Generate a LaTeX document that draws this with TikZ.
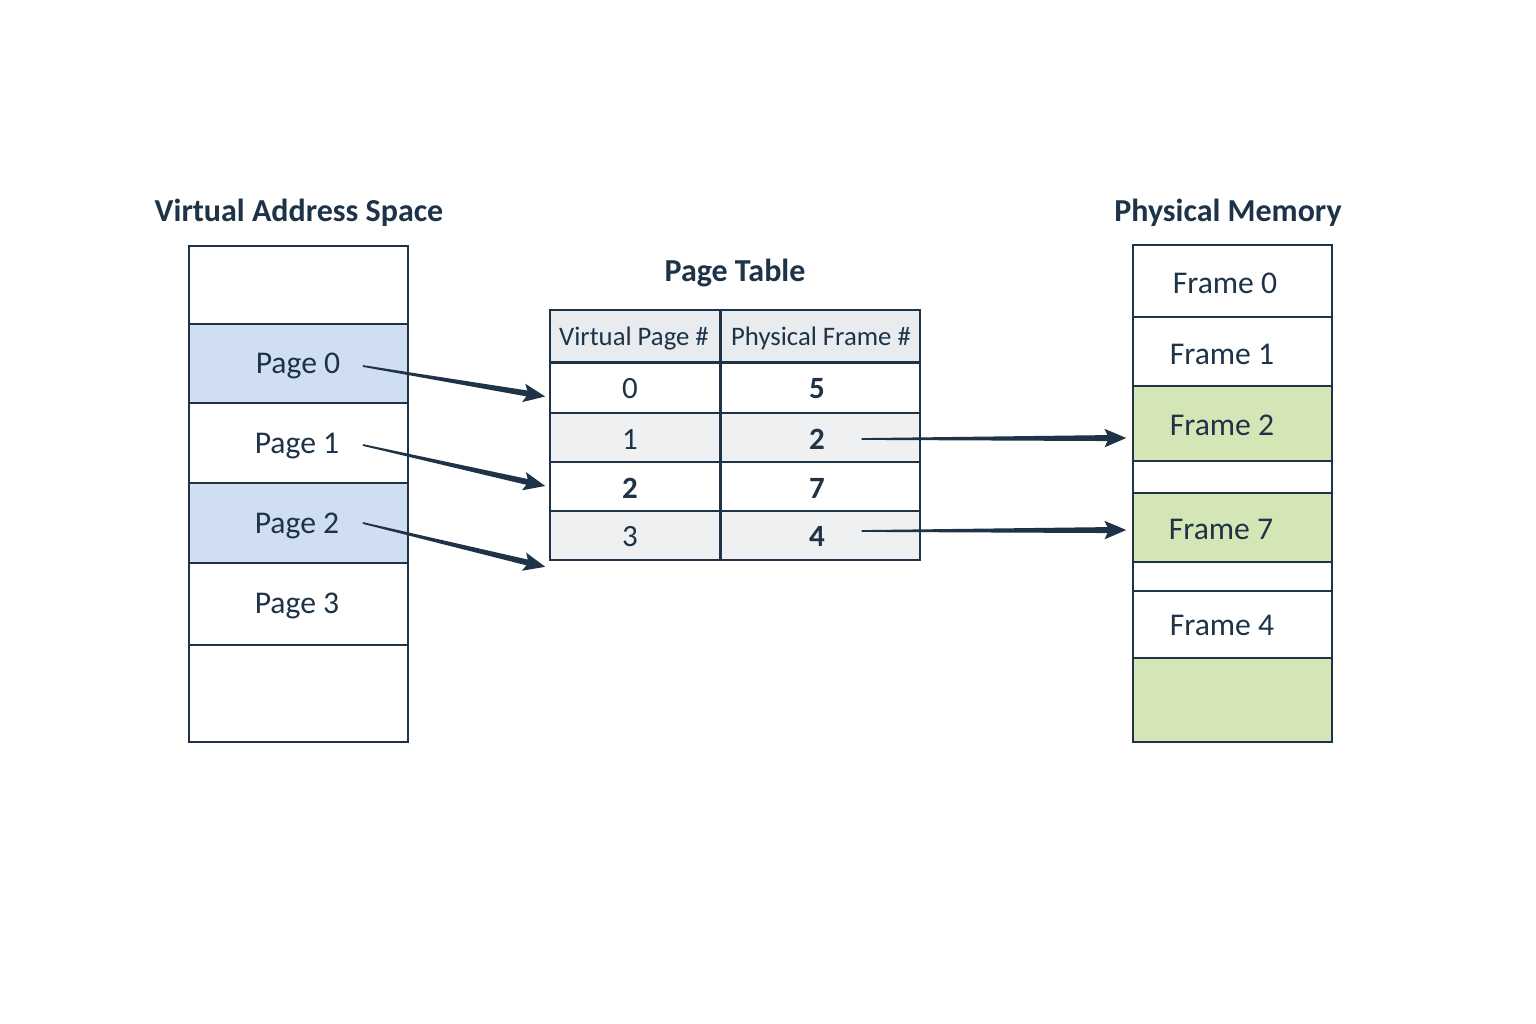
\documentclass[tikz,border=0pt]{standalone}
\usepackage{fontspec}
\setmainfont{Carlito}
\usetikzlibrary{calc,fit}
\definecolor{ink}{HTML}{1E3347}
\definecolor{bluef}{HTML}{CFDFF1}
\definecolor{greenf}{HTML}{D4E6B5}
\definecolor{grayf}{HTML}{EEF0F2}
\definecolor{hdrf}{HTML}{E9ECEF}
\newcommand\tarrow[2]{%
  \coordinate (hb) at ($(#2)!6.2pt!(#1)$);
  \coordinate (hn) at ($(#2)!4.9pt!(#1)$);
  \fill[ink] ($(#1)!0.25pt!90:(#2)$) -- ($(hn)!0.85pt!-90:(#1)$) -- ($(hn)!0.85pt!90:(#1)$) -- ($(#1)!0.25pt!-90:(#2)$) -- cycle;
  \fill[ink] (#2) -- ($(hb)!2.65pt!90:(#1)$) -- (hn) -- ($(hb)!2.65pt!-90:(#1)$) -- cycle;
}
\begin{document}
\begin{tikzpicture}[x=0.01cm,y=-0.01cm,
  cell/.style={draw=ink, line width=0.45pt, inner sep=0pt},
  outer/.style={draw=ink, line width=0.75pt},
  txt/.style={inner sep=0pt, text height=5.8pt, text depth=0pt, text=ink, font=\fontsize{9}{11}\selectfont},
  ttl/.style={txt, font=\fontsize{9.1}{11}\selectfont\bfseries},
  hdr/.style={txt, text height=4.9pt, font=\fontsize{7.6}{9}\selectfont},
  num/.style={txt, font=\fontsize{8.8}{11}\selectfont},
  numb/.style={txt, font=\fontsize{8.8}{11}\selectfont\bfseries}]
\useasboundingbox[fill=white] (0,0) rectangle (1536,1024);

% ---------- Virtual address space ----------
\node[ttl] (tv) at (299,211) {Virtual Address Space};
\node[cell, fill=white, fit={(189,246) (408,324)}] (v0) {};
\node[cell, fill=bluef, fit={(189,324) (408,403)}] (v1) {};
\node[cell, fill=white, fit={(189,403) (408,483)}] (v2) {};
\node[cell, fill=bluef, fit={(189,483) (408,563)}] (v3) {};
\node[cell, fill=white, fit={(189,563) (408,645)}] (v4) {};
\node[cell, fill=white, fit={(189,645) (408,742)}] (v5) {};
\node[outer, inner sep=0pt, fit={(189,246) (408,742)}] (vbox) {};
\node[txt] (p0) at (298,363) {Page 0};
\node[txt] (p1) at (297,443) {Page 1};
\node[txt] (p2) at (297,523) {Page 2};
\node[txt] (p3) at (297,603) {Page 3};

% ---------- Page table ----------
\node[ttl] (tt) at (735,271) {Page Table};
\node[cell, fill=hdrf, fit={(550,310) (720,362)}] (h1) {};
\node[cell, fill=hdrf, fit={(720,310) (920,362)}] (h2) {};
\node[cell, fill=white, fit={(550,362) (720,413)}] (r0a) {};
\node[cell, fill=white, fit={(720,362) (920,413)}] (r0b) {};
\node[cell, fill=grayf, fit={(550,413) (720,462)}] (r1a) {};
\node[cell, fill=grayf, fit={(720,413) (920,462)}] (r1b) {};
\node[cell, fill=white, fit={(550,462) (720,511)}] (r2a) {};
\node[cell, fill=white, fit={(720,462) (920,511)}] (r2b) {};
\node[cell, fill=grayf, fit={(550,511) (720,560)}] (r3a) {};
\node[cell, fill=grayf, fit={(720,511) (920,560)}] (r3b) {};
\draw[ink, line width=0.65pt] (h1.south west) -- (h2.south east);
\draw[ink, line width=0.65pt] (h1.north east) -- (r3a.south east);
\node[outer, inner sep=0pt, fit={(550,310) (920,560)}] (tbox) {};
\node[hdr] (hv) at (634,337) {Virtual Page \#};
\node[hdr] (hp) at (821,337) {Physical Frame \#};
\node[num] (n0) at (630,388) {0};
\node[num] (n1) at (630,439) {1};
\node[numb] (n2) at (630,488) {2};
\node[num] (n3) at (630,536) {3};
\node[numb] (m0) at (817,388) {5};
\node[numb] (m1) at (817,439) {2};
\node[numb] (m2) at (817,488) {7};
\node[numb] (m3) at (817,536) {4};

% ---------- Physical memory ----------
\node[ttl] (tp) at (1228,211) {Physical Memory};
\node[cell, fill=white,  fit={(1133,245) (1332,317)}] (f0) {};
\node[cell, fill=white,  fit={(1133,317) (1332,386)}] (f1) {};
\node[cell, fill=greenf, fit={(1133,386) (1332,461)}] (f2) {};
\node[cell, fill=white,  fit={(1133,461) (1332,493)}] (g1) {};
\node[cell, fill=greenf, fit={(1133,493) (1332,562)}] (f7) {};
\node[cell, fill=white,  fit={(1133,562) (1332,591)}] (g2) {};
\node[cell, fill=white,  fit={(1133,591) (1332,658)}] (f4) {};
\node[cell, fill=greenf, fit={(1133,658) (1332,742)}] (g3) {};
\node[outer, inner sep=0pt, fit={(1133,245) (1332,742)}] (pbox) {};
\node[txt] (t0) at (1225,283) {Frame 0};
\node[txt] (t1) at (1222,354) {Frame 1};
\node[txt] (t2) at (1222,425) {Frame 2};
\node[txt] (t7) at (1221,529) {Frame 7};
\node[txt] (t4) at (1222,625) {Frame 4};

% ---------- arrows ----------
\coordinate (a0s) at ($(p0.east)+(22,3)$);
\coordinate (a1s) at ($(p1.east)+(23,2)$);
\coordinate (a2s) at ($(p2.east)+(23,0)$);
\coordinate (a0e) at ($(r0a.west)+(-4,9)$);
\coordinate (a1e) at ($(r2a.west)+(-4,-0.5)$);
\coordinate (a2e) at ($(r3a.south west)+(-4,6)$);
\coordinate (b1s) at ($(m1.east)+(36,0)$);
\coordinate (b2s) at ($(m3.east)+(36,-5)$);
\coordinate (b1e) at ($(f2.west |- m1)+(-6,-1)$);
\coordinate (b2e) at ($(f7.west |- m3)+(-6,-6)$);
\tarrow{a0s}{a0e}
\tarrow{a1s}{a1e}
\tarrow{a2s}{a2e}
\tarrow{b1s}{b1e}
\tarrow{b2s}{b2e}
\end{tikzpicture}
\end{document}
